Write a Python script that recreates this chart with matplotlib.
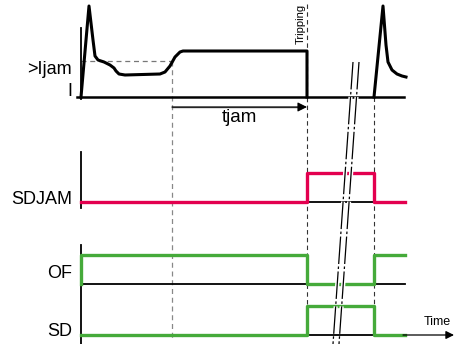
import numpy as np
import matplotlib.pyplot as plt
import matplotlib.patheffects as pe

plt.rcParams['font.family'] = ['Liberation Sans', 'DejaVu Sans']

# Time instants (horizontal position along the diagram)
t_start = 81
t_jam = 172       # current crosses the >Ijam threshold
t_trip = 307      # tripping
t_reset = 374     # motor restart
t_end = 405

# Current waveform (time, level) - first start and restart
cur_t = [81, 89, 93, 95, 98, 104, 110, 114, 116, 119, 125, 160, 165, 170, 175, 180, 183, 307, 307]
cur_y = [97, 6, 40, 56, 60, 62, 65, 68, 71, 74, 75, 74, 72, 66, 57, 52, 51, 51, 97]
rst_t = [374, 383, 386, 388, 392, 397, 402, 406]
rst_y = [97, 6, 45, 62, 70, 74, 76, 77]

# Row levels: (low level, high level)
row_i = 97
row_ijam = 61
row_sdjam = (202, 173)
row_of = (284, 255)
row_sd = (335, 306)

# Digital signals: times of edges and state (1 = high)
sdjam_t = [t_start, t_trip, t_trip, t_reset, t_reset, t_end]
sdjam_s = [0, 0, 1, 1, 0, 0]
of_t = [t_start, t_start, t_trip, t_trip, t_reset, t_reset, t_end]
of_s = [0, 1, 1, 0, 0, 1, 1]
sd_t = [t_start, t_trip, t_trip, t_reset, t_reset, t_end]
sd_s = [0, 0, 1, 1, 0, 0]

red = '#e3004f'
green = '#45aa3a'

fig = plt.figure(figsize=(4.6, 3.44), dpi=100)
ax = fig.add_axes([0, 0, 1, 1])
ax.set_xlim(0, 460)
ax.set_ylim(344, 0)
ax.axis('off')


def level(row, states):
    lo, hi = row
    return [hi if s else lo for s in states]


# dashed guide lines
ax.plot([t_start, t_jam], [row_ijam, row_ijam], color='#777777', lw=0.9, ls=(0, (4, 3)))
ax.plot([t_jam, t_jam], [row_ijam, 338], color='#888888', lw=0.9, ls=(0, (4, 3)))
ax.plot([t_trip, t_trip], [4, 338], color='#333333', lw=0.8, ls=(0, (4, 3)))
ax.plot([t_reset, t_reset], [row_i, 338], color='#333333', lw=0.8, ls=(0, (4, 3)))

# current panel
ax.plot([t_start, t_start], [28, 99], color='black', lw=1.3)
ax.plot([77, 404], [row_i, row_i], color='black', lw=1.8)
ax.plot(cur_t, cur_y, color='black', lw=2.2, solid_joinstyle='round')
ax.plot(rst_t, rst_y, color='black', lw=2.2, solid_joinstyle='round')
ax.text(72, 70, '>Ijam', ha='right', va='center', fontsize=13)
ax.text(72, 92, 'I', ha='right', va='center', fontsize=13)
ax.text(301, 4, 'Tripping', rotation=90, ha='center', va='top', fontsize=8)

# tjam arrow
ax.annotate('', xy=(t_trip, 107), xytext=(t_jam, 107),
            arrowprops=dict(arrowstyle='-|>', color='black', lw=0.8,
                            mutation_scale=14, shrinkA=0, shrinkB=0))
ax.plot([t_jam, t_trip - 10], [107, 107], color='#555555', lw=1.0)
ax.text(239, 118, 'tjam', ha='center', va='center', fontsize=13.5)

# SDJAM
ax.plot([t_start, t_start], [152, 208], color='black', lw=1.3)
ax.plot([t_trip, t_reset], [row_sdjam[0]] * 2, color='black', lw=1.3)
ax.plot(sdjam_t, level(row_sdjam, sdjam_s), color=red, lw=2.4)
ax.text(72, 199, 'SDJAM', ha='right', va='center', fontsize=13)

# OF / SD
ax.plot([t_start, t_start], [245, 344], color='black', lw=1.3)
ax.plot([t_start, t_end], [row_of[0]] * 2, color='black', lw=1.3)
ax.plot([t_trip, t_reset], [row_sd[0]] * 2, color='black', lw=1.3)
ax.plot(of_t, level(row_of, of_s), color=green, lw=2.4)
ax.plot(sd_t, level(row_sd, sd_s), color=green, lw=2.4)
ax.text(72, 274, 'OF', ha='right', va='center', fontsize=13)
ax.text(72, 332, 'SD', ha='right', va='center', fontsize=13)

# time axis arrow
ax.annotate('', xy=(454, row_sd[0]), xytext=(t_end - 2, row_sd[0]),
            arrowprops=dict(arrowstyle='-|>', color='black', lw=0.9,
                            mutation_scale=12, shrinkA=0, shrinkB=0))
ax.text(437, 322, 'Time', ha='center', va='center', fontsize=9)

# time-break marks
for x0 in (353, 359):
    ax.plot([x0, x0 - 20], [62, 344], color='black', lw=0.9,
            ls=(0, (22, 2, 2, 2)),
            path_effects=[pe.Stroke(linewidth=3.0, foreground='white'), pe.Normal()])

fig.savefig('out.png', dpi=100)
